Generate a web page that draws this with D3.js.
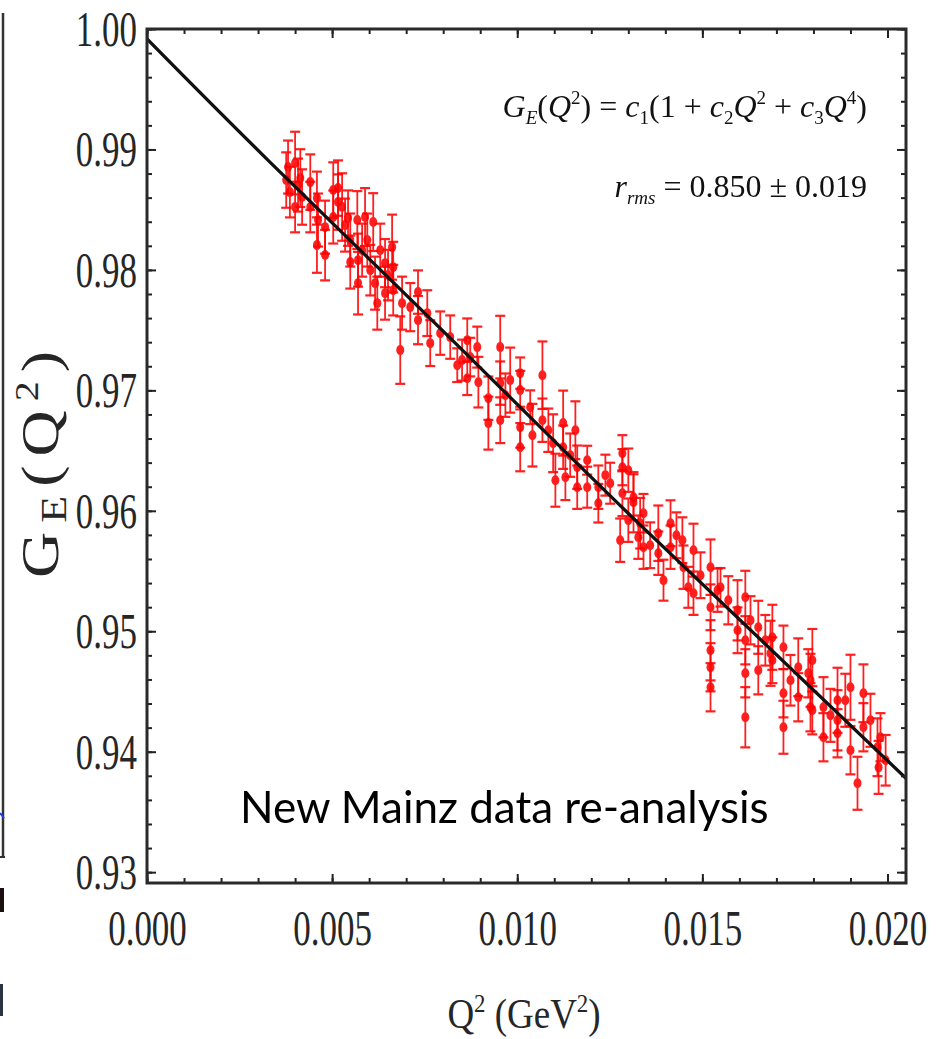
<!DOCTYPE html>
<html>
<head>
<meta charset="utf-8">
<script src="https://cdn.jsdelivr.net/npm/d3@7"></script>
<style>
  body { margin: 0; background: #fff; }
  svg { display: block; }
  .serif { font-family: "Liberation Serif", "DejaVu Serif", serif; }
</style>
</head>
<body>
<svg width="945" height="1039"></svg>
<script>
// data
var q2Values = [
  0.00381, 0.00386, 0.00400, 0.00400, 0.00419, 0.00441, 0.00441, 0.00459, 0.00459, 0.00462,
  0.00481, 0.00481, 0.00503, 0.00503, 0.00527, 0.00549, 0.00568, 0.00570, 0.00570, 0.00589,
  0.00595, 0.00611, 0.00616, 0.00622, 0.00643, 0.00643, 0.00662, 0.00665, 0.00665, 0.00689,
  0.00684, 0.00711, 0.00732, 0.00732, 0.00757, 0.00765, 0.00792, 0.00819, 0.00865, 0.00892,
  0.00838, 0.00865, 0.00873, 0.00895, 0.00922, 0.00922, 0.00954, 0.00954, 0.00954, 0.00981,
  0.01008, 0.01008, 0.01008, 0.01008, 0.01035, 0.01041, 0.01068, 0.01068, 0.01097, 0.01103,
  0.01124, 0.01124, 0.01130, 0.01157, 0.01162, 0.01162, 0.01189, 0.01189, 0.01219, 0.01219,
  0.01251, 0.01284, 0.01284, 0.01284, 0.01314, 0.01341, 0.01314, 0.01332, 0.01341, 0.01381,
  0.01381, 0.01395, 0.01414, 0.01414, 0.01446, 0.01449, 0.01462, 0.01476, 0.01476, 0.01522,
  0.01522, 0.01522, 0.01522, 0.01522, 0.01549, 0.01595, 0.01595, 0.01616, 0.01616, 0.01616,
  0.01616, 0.01651, 0.01651, 0.01689, 0.01689, 0.01719, 0.01719, 0.01719, 0.01759, 0.01759,
  0.01786, 0.01278, 0.01327, 0.01541, 0.01684, 0.01792, 0.01792, 0.01827, 0.01827, 0.01865,
  0.01900, 0.01900, 0.01919, 0.01935, 0.01935, 0.01973, 0.01981, 0.01797, 0.01797, 0.01865,
  0.01865, 0.01976, 0.00414, 0.00516, 0.00543, 0.00630, 0.00549,
  0.00376, 0.00408, 0.00516, 0.00535, 0.00581, 0.00603, 0.00651, 0.00851, 0.00968, 0.01084,
  0.01143, 0.01238, 0.01300, 0.01300, 0.01359, 0.01430, 0.01495, 0.01570, 0.01630, 0.01670,
  0.01738, 0.01846, 0.01886, 0.01954, 0.01995
];
var geValues = [
  0.98854, 0.98646, 0.98887, 0.98522, 0.98605, 0.98729, 0.98522, 0.98596, 0.98206, 0.98414,
  0.98355, 0.98123, 0.98663, 0.98439, 0.98522, 0.98248, 0.98414, 0.98081, 0.97890, 0.98439,
  0.98248, 0.98397, 0.97890, 0.97724, 0.98056, 0.97807, 0.98189, 0.98023, 0.97832, 0.97724,
  0.97334, 0.97691, 0.97816, 0.97583, 0.97641, 0.97392, 0.97475, 0.97442, 0.97417, 0.97359,
  0.97209, 0.97101, 0.97276, 0.97068, 0.96935, 0.96728, 0.97359, 0.97060, 0.96752, 0.97085,
  0.97143, 0.97002, 0.96694, 0.96528, 0.96860, 0.96628, 0.97126, 0.96752, 0.96561, 0.96254,
  0.96728, 0.96528, 0.96279, 0.96669, 0.96362, 0.96196, 0.96420, 0.96196, 0.96196, 0.96063,
  0.96229, 0.96478, 0.96362, 0.96146, 0.96113, 0.95980, 0.96071, 0.95897, 0.95698, 0.95814,
  0.95648, 0.95424, 0.95897, 0.95698, 0.95756, 0.95532, 0.95365, 0.95673, 0.95316, 0.95532,
  0.95199, 0.94842, 0.94701, 0.94535, 0.95365, 0.95174, 0.95008, 0.95282, 0.94925, 0.94651,
  0.94286, 0.95033, 0.94676, 0.94950, 0.94759, 0.94867, 0.94485, 0.94203, 0.94701, 0.94452,
  0.94651, 0.95756, 0.95781, 0.95341, 0.94817, 0.94593, 0.94369, 0.94369, 0.94120, 0.94261,
  0.94535, 0.94012, 0.93738, 0.94485, 0.94203, 0.94037, 0.94120, 0.94759, 0.94344, 0.94427,
  0.94153, 0.93870, 0.98762, 0.98563, 0.98430, 0.98164, 0.98065,
  0.98746, 0.98704, 0.98679, 0.98372, 0.98164, 0.97998, 0.97957, 0.97251, 0.96960, 0.96669,
  0.96462, 0.96296, 0.96337, 0.95922, 0.95714, 0.95797, 0.95465, 0.95257, 0.95091, 0.94925,
  0.94593, 0.94302, 0.94427, 0.94261, 0.93929
];
var geErrors = [
  0.0022, 0.0021, 0.0026, 0.0021, 0.0023, 0.0023, 0.0021, 0.0022, 0.0023, 0.0022,
  0.0022, 0.0021, 0.0023, 0.0022, 0.0028, 0.0022, 0.0024, 0.0022, 0.0026, 0.0024,
  0.0022, 0.0024, 0.0022, 0.0022, 0.0020, 0.0022, 0.0027, 0.0021, 0.0021, 0.0022,
  0.0028, 0.0020, 0.0018, 0.0020, 0.0019, 0.0019, 0.0018, 0.0018, 0.0018, 0.0017,
  0.0014, 0.0014, 0.0016, 0.0021, 0.0018, 0.0022, 0.0026, 0.0018, 0.0019, 0.0027,
  0.0013, 0.0016, 0.0017, 0.0020, 0.0014, 0.0026, 0.0028, 0.0018, 0.0024, 0.0022,
  0.0027, 0.0018, 0.0019, 0.0024, 0.0018, 0.0018, 0.0012, 0.0017, 0.0018, 0.0016,
  0.0017, 0.0015, 0.0015, 0.0019, 0.0019, 0.0016, 0.0025, 0.0021, 0.0018, 0.0023,
  0.0018, 0.0017, 0.0019, 0.0018, 0.0019, 0.0018, 0.0017, 0.0022, 0.0018, 0.0023,
  0.0019, 0.0025, 0.0020, 0.0020, 0.0016, 0.0025, 0.0019, 0.0022, 0.0020, 0.0020,
  0.0025, 0.0022, 0.0020, 0.0027, 0.0019, 0.0018, 0.0020, 0.0022, 0.0024, 0.0020,
  0.0020, 0.0018, 0.0018, 0.0018, 0.0027, 0.0022, 0.0020, 0.0025, 0.0020, 0.0025,
  0.0027, 0.0020, 0.0022, 0.0024, 0.0020, 0.0024, 0.0020, 0.0026, 0.0020, 0.0027,
  0.0020, 0.0022, 0.0024, 0.0023, 0.0023, 0.0022, 0.0022,
  0.0023, 0.0022, 0.0023, 0.0022, 0.0022, 0.0021, 0.0021, 0.0017, 0.0018, 0.0018,
  0.0018, 0.0017, 0.0018, 0.0018, 0.0019, 0.0019, 0.0019, 0.0020, 0.0020, 0.0021,
  0.0021, 0.0022, 0.0022, 0.0022, 0.0021
];

// fit curve G_E = c1(1 + c2 Q^2 + c3 Q^4), read at a few points
var fitQ2 = [0, 0.00332, 0.00819, 0.01305, 0.0205];
var fitGE = [0.99917, 0.98895, 0.97434, 0.95963, 0.93779];

var xMajorTicks = [0, 0.005, 0.010, 0.015, 0.020];
var yMajorTicks = [0.93, 0.94, 0.95, 0.96, 0.97, 0.98, 0.99, 1.00];

var svg = d3.select("svg");
var mLeft = 147, mRight = 906, mTop = 29, mBottom = 883;

var xScale = d3.scaleLinear().domain([0, 0.0205]).range([mLeft, mRight]);
var yScale = d3.scaleLinear().domain([0.9291, 1.0]).range([mBottom, mTop]);

var xMinor = d3.range(0, 0.0205, 0.001);
var yMinor = d3.range(0.93, 1.0001, 0.002);

// neighbour panel cut off at the left edge
svg.append("line").attr("x1", 3).attr("x2", 3).attr("y1", 13).attr("y2", 857)
  .attr("stroke", "#333").attr("stroke-width", 2.5);
svg.append("line").attr("x1", 0).attr("x2", 5).attr("y1", 857).attr("y2", 857)
  .attr("stroke", "#333").attr("stroke-width", 2);
svg.append("line").attr("x1", 0).attr("x2", 4).attr("y1", 813).attr("y2", 818)
  .attr("stroke", "#1a3cff").attr("stroke-width", 2);
svg.append("rect").attr("x", 0).attr("y", 888).attr("width", 4).attr("height", 24).attr("fill", "#1a1010");
svg.append("rect").attr("x", 0).attr("y", 984).attr("width", 3).attr("height", 32).attr("fill", "#2c3440");

var defs = svg.append("defs");
defs.append("clipPath").attr("id", "plotclip").append("rect")
  .attr("x", mLeft).attr("y", mTop).attr("width", mRight - mLeft).attr("height", mBottom - mTop);
defs.append("filter").attr("id", "soft").append("feGaussianBlur").attr("stdDeviation", 0.6);

// data with error bars
var points = q2Values.map(function(q, i) {
  return {q: q, g: geValues[i], e: geErrors[i]};
});

var pts = svg.append("g").attr("filter", "url(#soft)")
  .selectAll(".pt").data(points).enter().append("g").attr("class", "pt")
  .attr("stroke", "#ff0000").attr("fill", "#ff0000").attr("opacity", 0.88);

pts.append("line")
  .attr("x1", d => xScale(d.q)).attr("x2", d => xScale(d.q))
  .attr("y1", d => yScale(d.g + d.e)).attr("y2", d => yScale(d.g - d.e))
  .attr("stroke-width", 1.8);
pts.append("line")
  .attr("x1", d => xScale(d.q) - 5).attr("x2", d => xScale(d.q) + 5)
  .attr("y1", d => yScale(d.g + d.e)).attr("y2", d => yScale(d.g + d.e))
  .attr("stroke-width", 2.2);
pts.append("line")
  .attr("x1", d => xScale(d.q) - 5).attr("x2", d => xScale(d.q) + 5)
  .attr("y1", d => yScale(d.g - d.e)).attr("y2", d => yScale(d.g - d.e))
  .attr("stroke-width", 2.2);
pts.append("ellipse")
  .attr("cx", d => xScale(d.q)).attr("cy", d => yScale(d.g))
  .attr("rx", 4).attr("ry", 5).attr("stroke", "none");

// fit line
var fitData = fitQ2.map(function(q, i) { return {q: q, g: fitGE[i]}; });
svg.append("path").datum(fitData)
  .attr("clip-path", "url(#plotclip)")
  .attr("fill", "none").attr("stroke", "#111").attr("stroke-width", 3.3)
  .attr("d", d3.line().x(d => xScale(d.q)).y(d => yScale(d.g)).curve(d3.curveNatural));

// frame and ticks
function tickStyle(g) {
  g.select(".domain").remove();
  g.selectAll(".tick line").attr("stroke", "#222").attr("stroke-width", 2);
}

svg.append("g").attr("transform", "translate(" + mLeft + ",0)")
  .call(d3.axisLeft(yScale).tickValues(yMinor).tickSize(-5).tickFormat(""))
  .call(tickStyle);
svg.append("g").attr("transform", "translate(" + mRight + ",0)")
  .call(d3.axisRight(yScale).tickValues(yMinor).tickSize(-5).tickFormat(""))
  .call(tickStyle);
svg.append("g").attr("transform", "translate(0," + mTop + ")")
  .call(d3.axisTop(xScale).tickValues(xMinor).tickSize(-5).tickFormat(""))
  .call(tickStyle);
svg.append("g").attr("transform", "translate(0," + mBottom + ")")
  .call(d3.axisBottom(xScale).tickValues(xMinor).tickSize(-5).tickFormat(""))
  .call(tickStyle);

var sx = 0.7;
var yAxis = svg.append("g").attr("transform", "translate(" + mLeft + ",0)")
  .call(d3.axisLeft(yScale).tickValues(yMajorTicks).tickSize(-9).tickFormat(d3.format(".2f")))
  .call(tickStyle);

svg.append("g").attr("transform", "translate(" + mRight + ",0)")
  .call(d3.axisRight(yScale).tickValues(yMajorTicks).tickSize(-9).tickFormat(""))
  .call(tickStyle);
svg.append("g").attr("transform", "translate(0," + mTop + ")")
  .call(d3.axisTop(xScale).tickValues(xMajorTicks).tickSize(-9).tickFormat(""))
  .call(tickStyle);

var xAxis = svg.append("g").attr("transform", "translate(0," + mBottom + ")")
  .call(d3.axisBottom(xScale).tickValues(xMajorTicks).tickSize(-9).tickFormat(d3.format(".3f")))
  .call(tickStyle);

// drop the axis group fonts so the labels take the page styles
svg.selectAll("g").attr("font-family", null).attr("font-size", null);

yAxis.selectAll("text")
  .attr("class", "serif").attr("fill", "#262626").style("font-size", "50px")
  .attr("transform", "scale(" + sx + ",1)")
  .attr("x", -10 / sx).attr("dy", "0.33em");
xAxis.selectAll("text")
  .attr("class", "serif").attr("fill", "#262626").style("font-size", "50px")
  .attr("transform", "scale(" + sx + ",1)")
  .attr("y", 62).attr("dy", 0);

svg.append("rect")
  .attr("x", mLeft).attr("y", mTop).attr("width", mRight - mLeft).attr("height", mBottom - mTop)
  .attr("fill", "none").attr("stroke", "#2a2a2a").attr("stroke-width", 3);

// axis titles
var xt = svg.append("text").attr("class", "serif")
  .attr("transform", "translate(524,1028) scale(0.88,1)")
  .attr("text-anchor", "middle").attr("fill", "#262626").style("font-size", "42px");
xt.append("tspan").text("Q");
xt.append("tspan").attr("dy", -16).style("font-size", "26px").text("2");
xt.append("tspan").attr("dy", 16).text(" (GeV");
xt.append("tspan").attr("dy", -16).style("font-size", "26px").text("2");
xt.append("tspan").attr("dy", 16).text(")");

var yt = svg.append("text").attr("class", "serif")
  .attr("transform", "translate(58,460) rotate(-90) scale(1,0.82)")
  .attr("text-anchor", "middle").attr("fill", "#262626").style("font-size", "64px")
  .style("letter-spacing", "9px");
yt.append("tspan").text("G");
yt.append("tspan").attr("dy", 10).style("font-size", "44px").text("E");
yt.append("tspan").attr("dy", -10).text("(Q");
yt.append("tspan").attr("dy", -24).style("font-size", "40px").text("2");
yt.append("tspan").attr("dy", 24).text(")");

// formula annotations
function part(t, txt, italic, size, dy) {
  var s = t.append("tspan").text(txt);
  if (italic) s.style("font-style", "italic");
  if (size) s.style("font-size", size);
  if (dy) s.attr("dy", dy);
  return s;
}
var f1 = svg.append("text").attr("class", "serif")
  .attr("x", 867).attr("y", 117).attr("text-anchor", "end")
  .attr("fill", "#111").style("font-size", "32px");
part(f1, "G", true);
part(f1, "E", true, "19px", 7);
part(f1, "(", false, null, -7);
part(f1, "Q", true);
part(f1, "2", false, "19px", -13);
part(f1, ") = ", false, null, 13);
part(f1, "c", true);
part(f1, "1", false, "19px", 7);
part(f1, "(1 + ", false, null, -7);
part(f1, "c", true);
part(f1, "2", false, "19px", 7);
part(f1, "Q", true, null, -7);
part(f1, "2", false, "19px", -13);
part(f1, " + ", false, null, 13);
part(f1, "c", true);
part(f1, "3", false, "19px", 7);
part(f1, "Q", true, null, -7);
part(f1, "4", false, "19px", -13);
part(f1, ")", false, null, 13);

var f2 = svg.append("text").attr("class", "serif")
  .attr("x", 867).attr("y", 197).attr("text-anchor", "end")
  .attr("fill", "#111").style("font-size", "32px");
part(f2, "r", true);
part(f2, "rms", true, "19px", 7);
part(f2, " = 0.850 \u00b1 0.019", false, null, -7);

svg.append("text").attr("x", 240).attr("y", 823)
  .style("font-family", "Lato, 'Open Sans', sans-serif").style("font-size", "44px")
  .attr("fill", "#000")
  .text("New Mainz data re-analysis");
</script>
</body>
</html>
